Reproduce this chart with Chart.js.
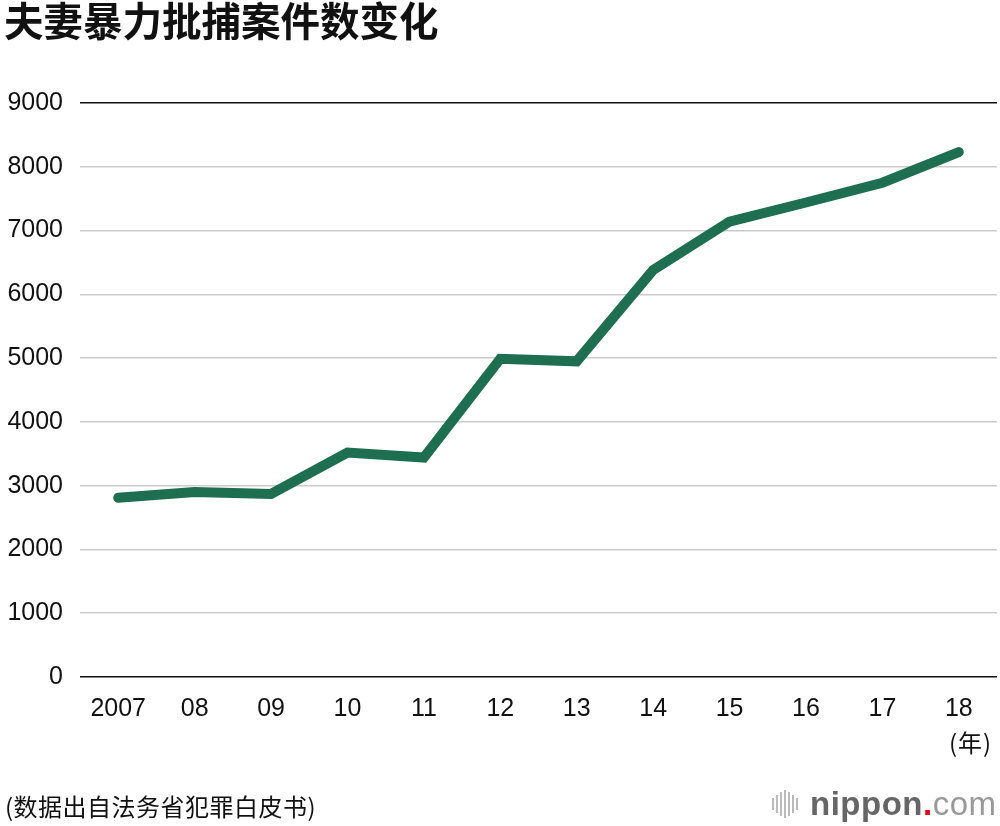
<!DOCTYPE html>
<html>
<head>
<meta charset="utf-8">
<script src="https://cdn.jsdelivr.net/npm/chart.js@4.4.0/dist/chart.umd.min.js"></script>
<style>
  html, body { margin: 0; padding: 0; background: #fff; }
  #wrap { position: relative; width: 1000px; height: 826px; overflow: hidden; }
  #chart { position: absolute; left: 0; top: 0; }
  .txt { position: absolute; white-space: nowrap; color: #111; }
  #title { left: 4px; top: -10px; font: bold 39.5px "Noto Sans CJK SC", sans-serif; }
  #unit { left: 949px; top: 724px; font: 24px "Noto Sans CJK SC", sans-serif; letter-spacing: 1px; }
  #source { left: 5px; top: 788px; font: 24px "Noto Sans CJK SC", sans-serif; letter-spacing: 0.5px; }
  #logo { left: 772px; top: 784px; height: 40px; display: flex; align-items: center; }
  #bars { display: flex; align-items: center; height: 30px; margin-right: 10px; }
  #bars span { display: block; width: 2px; background: #bbb; margin-right: 2px; }
  #brand { font: bold 33px "Liberation Sans", Arial, sans-serif; color: #666; letter-spacing: 0.5px; }
  #brand .dot { color: #e60012; }
  #brand .com { font-weight: normal; color: #999; }
</style>
</head>
<body>
<div id="wrap">
  <canvas id="chart" width="1000" height="826"></canvas>
  <div class="txt" id="title">夫妻暴力批捕案件数变化</div>
  <div class="txt" id="unit">(年)</div>
  <div class="txt" id="source">(数据出自法务省犯罪白皮书)</div>
  <div class="txt" id="logo">
    <div id="bars">
      <span style="height:12px"></span><span style="height:18px"></span><span style="height:24px"></span><span style="height:28px"></span><span style="height:24px"></span><span style="height:18px"></span><span style="height:12px"></span>
    </div>
    <div id="brand">nippon<span class="dot">.</span><span class="com">com</span></div>
  </div>
</div>
<script>
const years = ["2007", "08", "09", "10", "11", "12", "13", "14", "15", "16", "17", "18"];
const arrests = [2810, 2900, 2870, 3520, 3440, 4990, 4950, 6380, 7140, 7440, 7750, 8230];
const yTicks = [0, 1000, 2000, 3000, 4000, 5000, 6000, 7000, 8000, 9000];

const tickFont = { family: "'Liberation Sans', Arial, sans-serif", size: 25 };

new Chart(document.getElementById("chart").getContext("2d"), {
  type: "line",
  data: {
    labels: years,
    datasets: [{
      data: arrests,
      borderColor: "#1e6e52",
      borderWidth: 10,
      borderCapStyle: "round",
      borderJoinStyle: "miter",
      pointRadius: 0,
      tension: 0,
      fill: false
    }]
  },
  options: {
    responsive: false,
    animation: false,
    layout: { padding: { top: 103, right: 3, left: 0, bottom: 0 } },
    plugins: { legend: { display: false }, tooltip: { enabled: false } },
    scales: {
      x: {
        offset: true,
        grid: { display: false },
        border: { display: false },
        ticks: { color: "#111", font: tickFont, padding: 9, maxRotation: 0 },
        afterFit(scale) { scale.height = 149; }
      },
      y: {
        min: yTicks[0],
        max: yTicks[yTicks.length - 1],
        afterBuildTicks(scale) { scale.ticks = yTicks.map(v => ({ value: v })); },
        grid: {
          drawTicks: false,
          lineWidth: 1.5,
          color: ctx => (ctx.tick && (ctx.tick.value === 0 || ctx.tick.value === 9000)) ? "#111" : "#cccccc"
        },
        border: { display: false },
        ticks: { color: "#111", font: tickFont, padding: 17, callback: v => String(v) },
        afterFit(scale) { scale.width = 80; }
      }
    }
  }
});
</script>
</body>
</html>
